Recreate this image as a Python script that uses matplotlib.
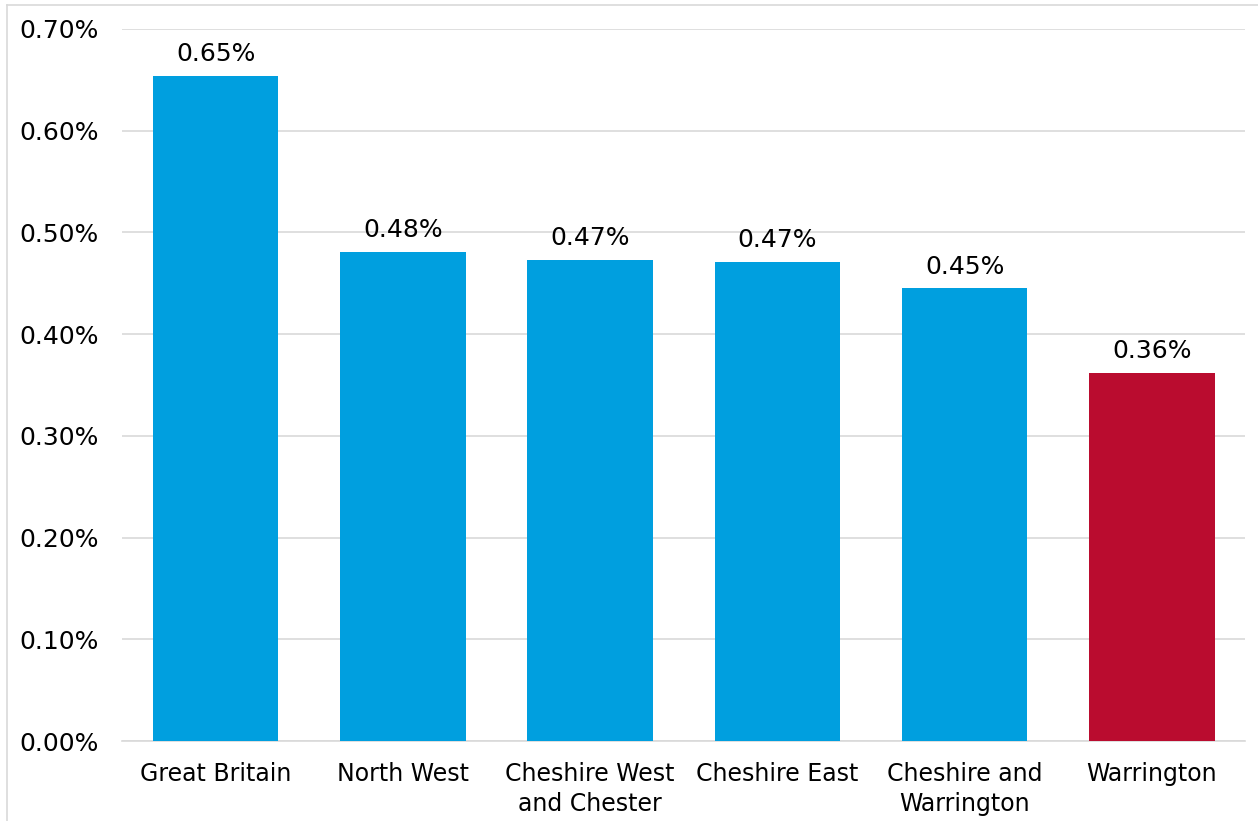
import matplotlib.pyplot as plt
from matplotlib.ticker import FuncFormatter
from matplotlib.lines import Line2D

# data
categories = ['Great Britain', 'North West', 'Cheshire West\nand Chester',
              'Cheshire East', 'Cheshire and\nWarrington', 'Warrington']
values = [0.654, 0.481, 0.473, 0.471, 0.445, 0.362]
value_labels = ['0.65%', '0.48%', '0.47%', '0.47%', '0.45%', '0.36%']
bar_colors = ['#009FDF', '#009FDF', '#009FDF', '#009FDF', '#009FDF', '#BA0C2F']

fig = plt.figure(figsize=(12.58, 8.21), dpi=100)
ax = fig.add_axes([0.097, 0.0974, 0.893, 0.8673])

x = range(len(categories))
bars = ax.bar(x, values, width=0.67, color=bar_colors, zorder=3)

for b, lab in zip(bars, value_labels):
    ax.annotate(lab, (b.get_x() + b.get_width() / 2, b.get_height()),
                xytext=(0, 7), textcoords='offset points',
                ha='center', va='bottom', fontsize=18, color='#000000')

ax.set_xlim(-0.5, len(categories) - 0.5)
ax.set_ylim(0, 0.70)
ax.set_yticks([i / 10 for i in range(8)])
ax.yaxis.set_major_formatter(FuncFormatter(lambda v, p: f'{v:.2f}%'))
ax.set_xticks(list(x))
ax.set_xticklabels(categories, fontsize=17, linespacing=1.32)
ax.tick_params(axis='y', labelsize=18, length=0, pad=17)
ax.tick_params(axis='x', length=0, pad=15)

ax.grid(axis='y', color='#d9d9d9', linewidth=1.2, zorder=0)
for s in ['top', 'right', 'left']:
    ax.spines[s].set_visible(False)
ax.spines['bottom'].set_color('#d9d9d9')
ax.spines['bottom'].set_linewidth(1.2)

# light frame around chart area
fig.add_artist(Line2D([7 / 1258, 7 / 1258], [0, 1 - 5 / 821],
                      transform=fig.transFigure, color='#d9d9d9', linewidth=1.2))
fig.add_artist(Line2D([7 / 1258, 1], [1 - 5 / 821, 1 - 5 / 821],
                      transform=fig.transFigure, color='#d9d9d9', linewidth=1.2))

fig.savefig('out.png', dpi=100)
